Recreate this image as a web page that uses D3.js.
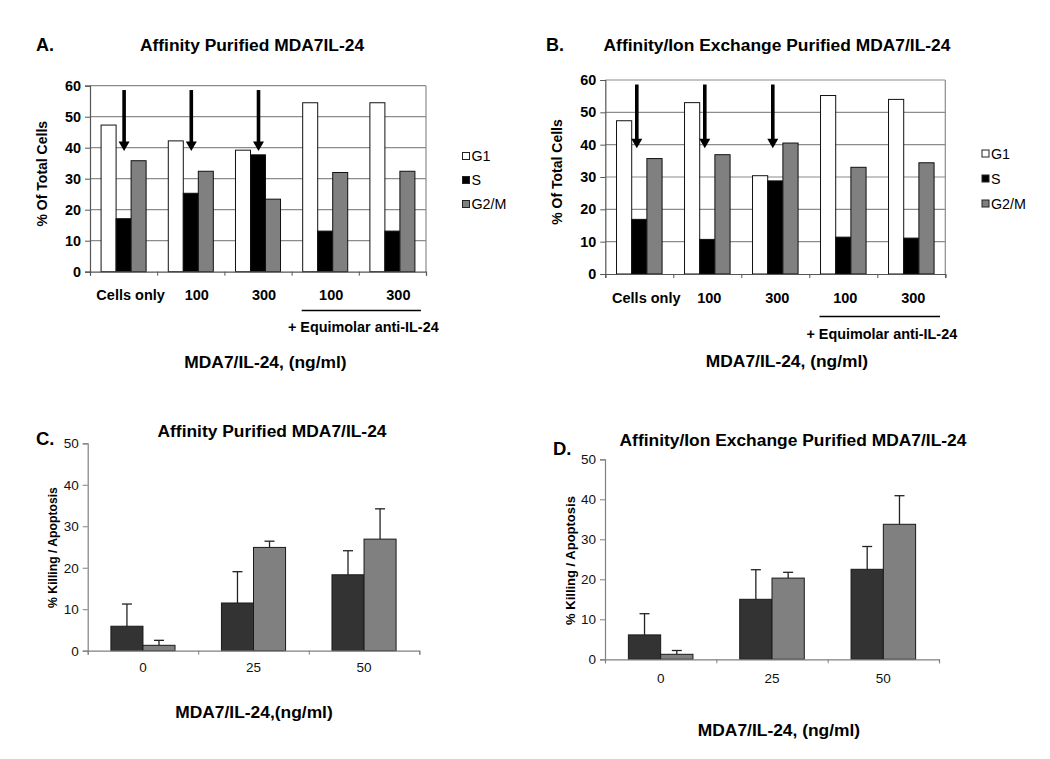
<!DOCTYPE html>
<html>
<head>
<meta charset="utf-8">
<script src="https://cdn.jsdelivr.net/npm/d3@7"></script>
<style>
  html, body { margin: 0; padding: 0; background: #fff; }
  svg { display: block; font-family: Arial, "Liberation Sans", sans-serif; }
</style>
</head>
<body>
<svg id="chart" width="1050" height="759"></svg>
<script>
// ---------- DATA ----------
const cycleCategories = ["Cells only", "100", "300", "100", "300"];
const phases = ["G1", "S", "G2/M"];
const cycleTicks = [0, 10, 20, 30, 40, 50, 60];

const aG1  = [47.3, 42.2, 39.2, 54.5, 54.5];
const aS   = [17.1, 25.3, 37.7, 13.1, 13.1];
const aG2M = [35.8, 32.4, 23.4, 32.0, 32.4];

const bG1  = [47.4, 53.0, 30.4, 55.2, 54.0];
const bS   = [16.9, 10.7, 28.8, 11.4, 11.1];
const bG2M = [35.7, 36.9, 40.5, 33.0, 34.4];

const arrowCategories = [0, 1, 2];
const arrowFrom = 58.6;
const arrowTo = 38.9;

const killDoses = ["0", "25", "50"];
const killTicks = [0, 10, 20, 30, 40, 50];

const cDark     = [5.9, 11.5, 18.3];
const cDarkErr  = [5.35, 7.55, 5.8];
const cLight    = [1.3, 24.9, 26.9];
const cLightErr = [1.2, 1.5, 7.3];

const dDark     = [6.1, 15.0, 22.5];
const dDarkErr  = [5.3, 7.4, 5.7];
const dLight    = [1.25, 20.3, 33.75];
const dLightErr = [0.95, 1.45, 7.15];

// ---------- DRAW ----------
const svg = d3.select("#chart");
const FONT = 'Arial, "Liberation Sans", sans-serif';
const phaseFill = { "G1": "#ffffff", "S": "#000000", "G2/M": "#808080" };

function text(x, y, str, opts) {
  const t = svg.append("text").attr("x", x).attr("y", y).text(str)
    .attr("font-family", FONT)
    .attr("font-size", opts.size)
    .attr("font-weight", opts.weight || "normal")
    .attr("text-anchor", opts.anchor || "middle")
    .attr("dominant-baseline", "central")
    .attr("fill", opts.fill || "#000");
  if (opts.rotate) t.attr("transform", `rotate(-90,${x},${y})`);
  return t;
}

function drawCycle(p) {
  const g = svg.append("g");
  const x = d3.scaleBand().domain(d3.range(cycleCategories.length)).range([p.x0, p.x1]);
  const bw = x.bandwidth();
  const inner = d3.scaleBand().domain(phases).range([bw * 0.165, bw * 0.835]);
  const y = d3.scaleLinear().domain([0, 60]).range([p.yb, p.yt]);

  // gridlines
  g.selectAll("line.grid").data(cycleTicks.filter(t => t > 0)).join("line")
    .attr("x1", p.x0).attr("x2", p.x1)
    .attr("y1", d => y(d)).attr("y2", d => y(d))
    .attr("stroke", "#8c8c8c").attr("stroke-width", 1.2);
  // plot border (right)
  g.append("line").attr("x1", p.x1).attr("x2", p.x1).attr("y1", y(60)).attr("y2", y(0))
    .attr("stroke", "#8c8c8c").attr("stroke-width", 1.2);

  // bars
  const series = [
    { key: "G1", values: p.g1 },
    { key: "S", values: p.s },
    { key: "G2/M", values: p.g2m }
  ];
  series.forEach(s => {
    g.selectAll(null).data(s.values).join("rect")
      .attr("x", (d, i) => x(i) + inner(s.key))
      .attr("width", inner.bandwidth())
      .attr("y", d => y(d))
      .attr("height", d => y(0) - y(d))
      .attr("fill", phaseFill[s.key])
      .attr("stroke", "#111").attr("stroke-width", 1);
  });

  // y axis
  const ya = g.append("g").attr("transform", `translate(${p.x0},0)`)
    .call(d3.axisLeft(y).tickValues(cycleTicks).tickSize(5).tickPadding(4));
  ya.select(".domain").attr("stroke", "#555").attr("stroke-width", 1.2);
  ya.selectAll(".tick line").attr("stroke", "#555");
  ya.selectAll(".tick text").attr("font-family", FONT).attr("font-size", 14.4)
    .attr("font-weight", "bold").attr("fill", "#000");

  // x axis (boundary ticks)
  const xb = d3.scaleLinear().domain([0, cycleCategories.length]).range([p.x0, p.x1]);
  const xa = g.append("g").attr("transform", `translate(0,${p.yb})`)
    .call(d3.axisBottom(xb).tickValues(d3.range(cycleCategories.length + 1)).tickSize(4).tickFormat(""));
  xa.select(".domain").attr("stroke", "#555").attr("stroke-width", 1.2);
  xa.selectAll(".tick line").attr("stroke", "#555");

  // category labels
  cycleCategories.forEach((c, i) => {
    text(x(i) + bw / 2 + (i === 0 ? p.firstDx : p.labelDx), p.labelY, c, { size: 14.5, weight: "bold" });
  });

  // arrows
  arrowCategories.forEach(i => {
    const cx = x(i) + inner("S") + inner.bandwidth() / 2 + p.arrowDx;
    const yTop = y(arrowFrom), yTip = y(arrowTo);
    g.append("line").attr("x1", cx).attr("x2", cx).attr("y1", yTop).attr("y2", yTip - 8)
      .attr("stroke", "#000").attr("stroke-width", 3.6);
    g.append("path")
      .attr("d", `M${cx - 5.5},${yTip - 9.5} L${cx + 5.5},${yTip - 9.5} L${cx},${yTip} Z`)
      .attr("fill", "#000");
  });

  // underline + anti label
  const ul0 = x(3) + inner("G1") - 1, ul1 = x(4) + inner("G2/M") + inner.bandwidth() + 6;
  g.append("line").attr("x1", ul0).attr("x2", ul1).attr("y1", p.ulY).attr("y2", p.ulY)
    .attr("stroke", "#000").attr("stroke-width", 1.5);
  text((ul0 + ul1) / 2 + 2, p.antiY, "+ Equimolar anti-IL-24", { size: 14.4, weight: "bold" });

  // titles
  text(p.letterX, p.titleY, p.letter, { size: 18, weight: "bold", anchor: "start" });
  text(p.titleX, p.titleY, p.title, { size: 17.4, weight: "bold" });
  text(p.yTitleX, (p.yt + p.yb) / 2 - 5, "% Of Total Cells", { size: 14, weight: "bold", rotate: true });
  text(p.xTitleX, p.xTitleY, "MDA7/IL-24, (ng/ml)", { size: 17.4, weight: "bold" });

  // legend
  phases.forEach((ph, i) => {
    const ly = p.legY + i * p.legStep;
    g.append("rect").attr("x", p.legX).attr("y", ly - 3.5).attr("width", 7).attr("height", 7)
      .attr("fill", phaseFill[ph]).attr("stroke", "#222").attr("stroke-width", 1);
    text(p.legX + 9, ly, ph, { size: 14.3, anchor: "start" });
  });
}

function drawKill(p) {
  const g = svg.append("g");
  const x = d3.scaleBand().domain(killDoses).range([p.x0, p.x1]);
  const bw = x.bandwidth();
  const inner = d3.scaleBand().domain(["dark", "light"]).range([bw * 0.21, bw * 0.79]);
  const y = d3.scaleLinear().domain([0, 50]).range([p.yb, p.yt]);

  const series = [
    { key: "dark", values: p.dark, err: p.darkErr, fill: "#333333" },
    { key: "light", values: p.light, err: p.lightErr, fill: "#808080" }
  ];
  series.forEach(s => {
    // error bars (upper)
    s.values.forEach((v, i) => {
      const cx = x(killDoses[i]) + inner(s.key) + inner.bandwidth() / 2;
      g.append("line").attr("x1", cx).attr("x2", cx).attr("y1", y(v)).attr("y2", y(v + s.err[i]))
        .attr("stroke", "#222").attr("stroke-width", 1.3);
      g.append("line").attr("x1", cx - 5).attr("x2", cx + 5).attr("y1", y(v + s.err[i])).attr("y2", y(v + s.err[i]))
        .attr("stroke", "#222").attr("stroke-width", 1.3);
    });
    g.selectAll(null).data(s.values).join("rect")
      .attr("x", (d, i) => x(killDoses[i]) + inner(s.key))
      .attr("width", inner.bandwidth())
      .attr("y", d => y(d))
      .attr("height", d => y(0) - y(d))
      .attr("fill", s.fill)
      .attr("stroke", "#1a1a1a").attr("stroke-width", 1);
  });

  const ya = g.append("g").attr("transform", `translate(${p.x0},0)`)
    .call(d3.axisLeft(y).tickValues(killTicks).tickSize(5).tickPadding(4));
  ya.select(".domain").attr("stroke", "#808080").attr("stroke-width", 1.2);
  ya.selectAll(".tick line").attr("stroke", "#808080");
  ya.selectAll(".tick text").attr("font-family", FONT).attr("font-size", 13.5).attr("fill", "#111");

  const xb = d3.scaleLinear().domain([0, killDoses.length]).range([p.x0, p.x1]);
  const xa = g.append("g").attr("transform", `translate(0,${p.yb})`)
    .call(d3.axisBottom(xb).tickValues(d3.range(killDoses.length + 1)).tickSize(4).tickFormat(""));
  xa.select(".domain").attr("stroke", "#808080").attr("stroke-width", 1.2);
  xa.selectAll(".tick line").attr("stroke", "#808080");

  killDoses.forEach(d => text(x(d) + bw / 2, p.labelY, d, { size: 13.5, fill: "#111" }));

  text(p.letterX, p.letterY, p.letter, { size: 18.5, weight: "bold", anchor: "start" });
  text(p.titleX, p.titleY, p.title, { size: 17.4, weight: "bold" });
  text(p.yTitleX, p.yTitleY, "% Killing / Apoptosis", { size: p.yTitleSize, weight: "bold", rotate: true });
  text(p.xTitleX, p.xTitleY, p.xTitle, { size: 17.4, weight: "bold" });
}

drawCycle({
  x0: 90, x1: 426, yb: 271.7, yt: 85.7,
  g1: aG1, s: aS, g2m: aG2M,
  labelY: 295, labelDx: 6, firstDx: 7, arrowDx: 0.5,
  ulY: 310.5, antiY: 327,
  letter: "A.", letterX: 36, title: "Affinity Purified MDA7IL-24", titleX: 252, titleY: 45,
  yTitleX: 42, xTitleX: 265.5, xTitleY: 362,
  legX: 462.5, legY: 156, legStep: 24
});

drawCycle({
  x0: 605.3, x1: 945.3, yb: 274, yt: 80,
  g1: bG1, s: bS, g2m: bG2M,
  labelY: 297.5, labelDx: 2, firstDx: 7, arrowDx: -2.5,
  ulY: 316.5, antiY: 334,
  letter: "B.", letterX: 546, title: "Affinity/Ion Exchange Purified MDA7/IL-24", titleX: 777, titleY: 45,
  yTitleX: 557, xTitleX: 787, xTitleY: 361,
  legX: 982, legY: 153.5, legStep: 25
});

drawKill({
  x0: 87.7, x1: 419.3, yb: 650.7, yt: 443.3,
  dark: cDark, darkErr: cDarkErr, light: cLight, lightErr: cLightErr,
  labelY: 667,
  letter: "C.", letterX: 36, letterY: 438.5,
  title: "Affinity Purified MDA7/IL-24", titleX: 272, titleY: 431,
  yTitleX: 53, yTitleY: 547.5, yTitleSize: 12.2,
  xTitle: "MDA7/IL-24,(ng/ml)", xTitleX: 254, xTitleY: 712
});

drawKill({
  x0: 605, x1: 939, yb: 659.3, yt: 459.3,
  dark: dDark, darkErr: dDarkErr, light: dLight, lightErr: dLightErr,
  labelY: 678,
  letter: "D.", letterX: 553, letterY: 448.5,
  title: "Affinity/Ion Exchange Purified MDA7/IL-24", titleX: 793, titleY: 440,
  yTitleX: 570, yTitleY: 560.5, yTitleSize: 13,
  xTitle: "MDA7/IL-24, (ng/ml)", xTitleX: 779, xTitleY: 729.5
});
</script>
</body>
</html>
